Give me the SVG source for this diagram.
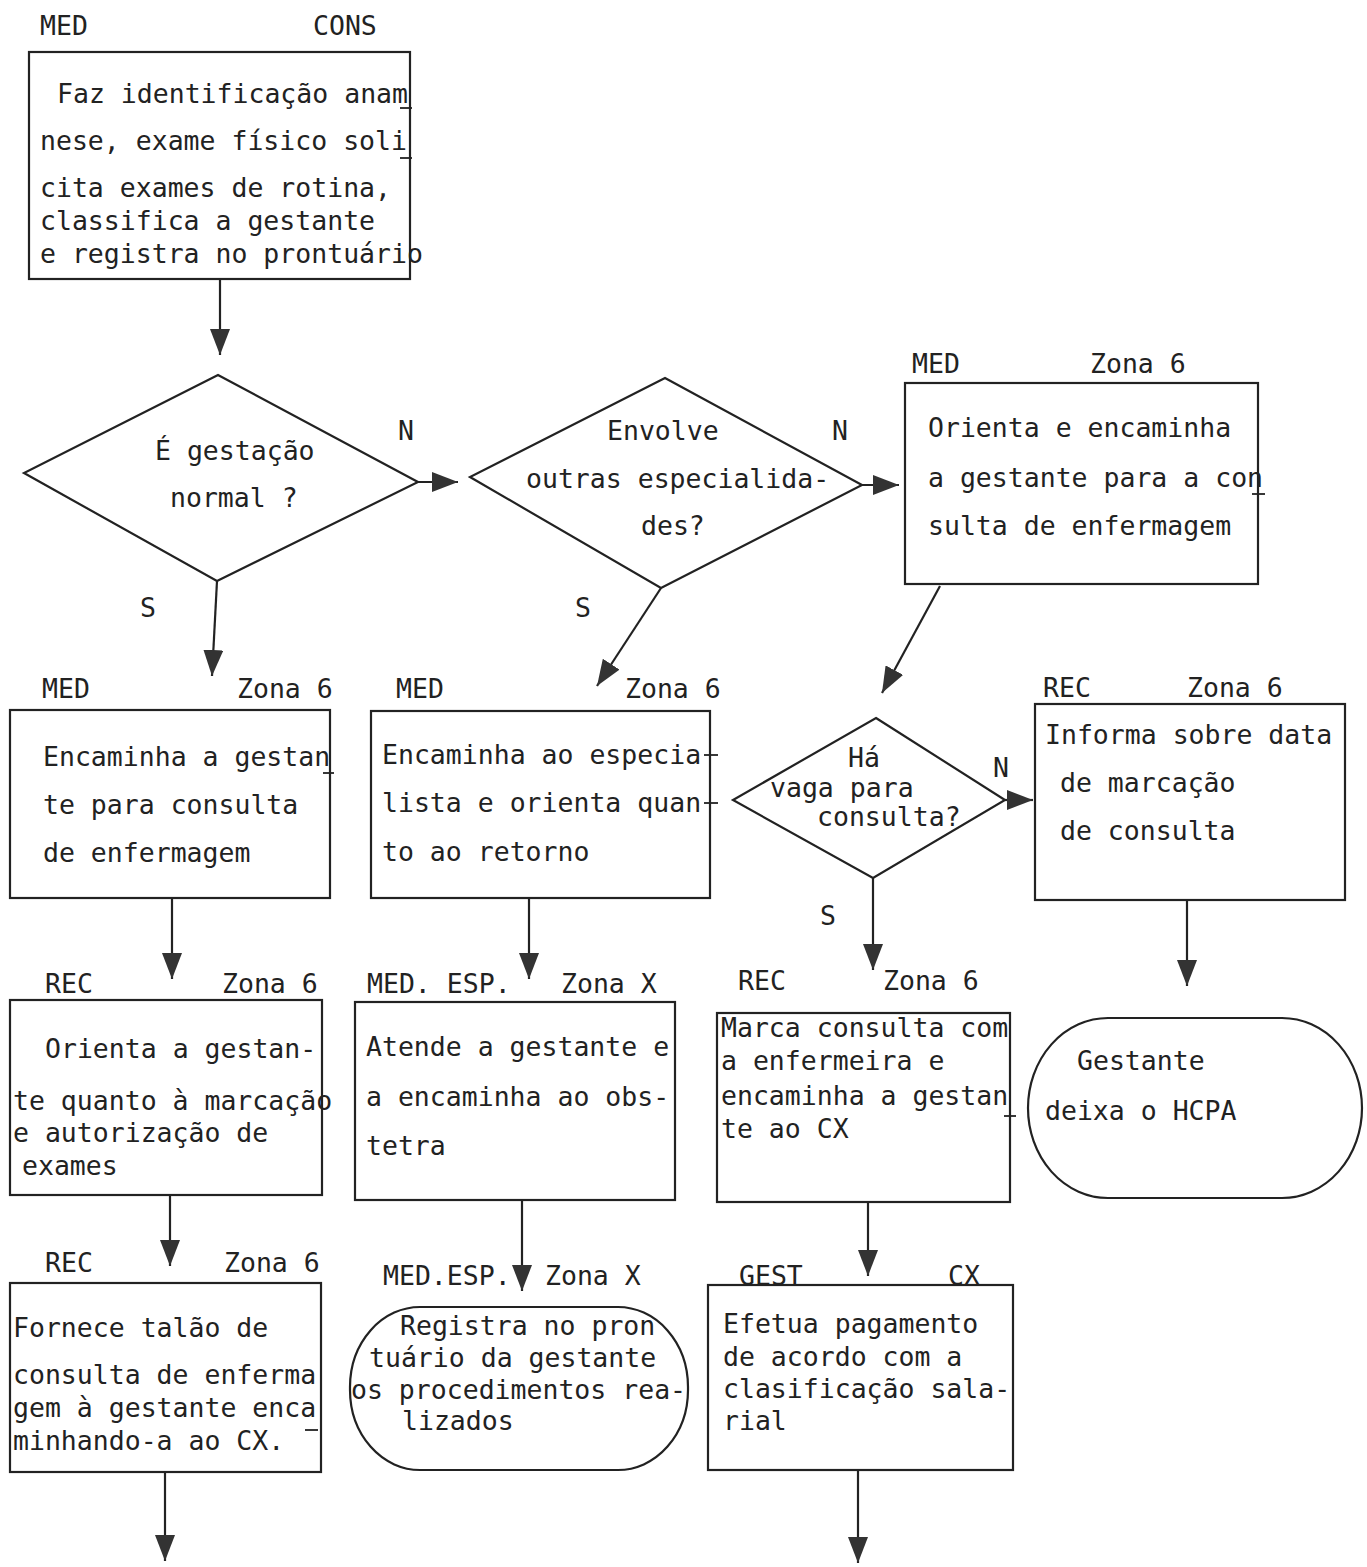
<svg xmlns="http://www.w3.org/2000/svg" width="1367" height="1567" viewBox="0 0 1367 1567">
<defs>
<style>
.box{fill:none;stroke:#222;stroke-width:2.2}
.t{font-family:"DejaVu Sans Mono","Liberation Mono",monospace;font-size:26.5px;fill:#222}
.c{fill:none;stroke:#222;stroke-width:2.2}
.tick{stroke:#222;stroke-width:1.8}
</style>
<marker id="ah" viewBox="0 0 26 20" refX="26" refY="10" markerWidth="26" markerHeight="20" markerUnits="userSpaceOnUse" orient="auto">
<path d="M0,0 L26,10 L0,20 z" fill="#333"/>
</marker>
</defs>
<rect width="1367" height="1567" fill="#fff"/>

<g id="connectors">
<line class="c" x1="220" y1="279" x2="220" y2="355" marker-end="url(#ah)"/>
<line class="c" x1="418" y1="482" x2="458" y2="482" marker-end="url(#ah)"/>
<line class="c" x1="862" y1="485" x2="899" y2="485" marker-end="url(#ah)"/>
<line class="c" x1="217" y1="581" x2="212" y2="676" marker-end="url(#ah)"/>
<line class="c" x1="661" y1="588" x2="597" y2="686" marker-end="url(#ah)"/>
<line class="c" x1="940" y1="586" x2="882" y2="693" marker-end="url(#ah)"/>
<line class="c" x1="1005" y1="800" x2="1033" y2="800" marker-end="url(#ah)"/>
<line class="c" x1="873" y1="878" x2="873" y2="970" marker-end="url(#ah)"/>
<line class="c" x1="1187" y1="900" x2="1187" y2="986" marker-end="url(#ah)"/>
<line class="c" x1="172" y1="898" x2="172" y2="979" marker-end="url(#ah)"/>
<line class="c" x1="529" y1="898" x2="529" y2="979" marker-end="url(#ah)"/>
<line class="c" x1="170" y1="1195" x2="170" y2="1266" marker-end="url(#ah)"/>
<line class="c" x1="522" y1="1200" x2="522" y2="1291" marker-end="url(#ah)"/>
<line class="c" x1="868" y1="1202" x2="868" y2="1276" marker-end="url(#ah)"/>
<line class="c" x1="165" y1="1472" x2="165" y2="1561" marker-end="url(#ah)"/>
<line class="c" x1="858" y1="1470" x2="858" y2="1563" marker-end="url(#ah)"/>
<text class="t" x="398" y="440">N</text>
<text class="t" x="140" y="617">S</text>
<text class="t" x="832" y="440">N</text>
<text class="t" x="575" y="617">S</text>
<text class="t" x="993" y="777">N</text>
<text class="t" x="820" y="925">S</text>
</g>

<g id="n1">
<text class="t" x="40" y="35">MED</text>
<text class="t" x="313" y="35">CONS</text>
<rect class="box" x="29" y="52" width="381" height="227"/>
<text class="t" x="57" y="103">Faz identificação anam</text>
<line class="tick" x1="400" y1="108" x2="412" y2="108"/>
<text class="t" x="40" y="150">nese, exame físico soli</text>
<line class="tick" x1="400" y1="158" x2="412" y2="158"/>
<text class="t" x="40" y="197">cita exames de rotina,</text>
<text class="t" x="40" y="230">classifica a gestante</text>
<text class="t" x="40" y="263">e registra no prontuário</text>
</g>

<g id="d1">
<polygon class="box" points="218,375 418,482 217,581 24,473"/>
<text class="t" x="155" y="460">É gestação</text>
<text class="t" x="170" y="507">normal ?</text>
</g>

<g id="d2">
<polygon class="box" points="665,378 862,485 661,588 470,477"/>
<text class="t" x="607" y="440">Envolve</text>
<text class="t" x="526" y="488">outras especialida-</text>
<text class="t" x="641" y="535">des?</text>
</g>

<g id="n3">
<text class="t" x="912" y="373">MED</text>
<text class="t" x="1090" y="373">Zona 6</text>
<rect class="box" x="905" y="383" width="353" height="201"/>
<text class="t" x="928" y="437">Orienta e encaminha</text>
<text class="t" x="928" y="487">a gestante para a con</text>
<line class="tick" x1="1252" y1="494" x2="1265" y2="494"/>
<text class="t" x="928" y="535">sulta de enfermagem</text>
</g>

<g id="n4">
<text class="t" x="42" y="698">MED</text>
<text class="t" x="237" y="698">Zona 6</text>
<rect class="box" x="10" y="710" width="320" height="188"/>
<text class="t" x="43" y="766">Encaminha a gestan</text>
<line class="tick" x1="323" y1="773" x2="334" y2="773"/>
<text class="t" x="43" y="814">te para consulta</text>
<text class="t" x="43" y="862">de enfermagem</text>
</g>

<g id="n5">
<text class="t" x="396" y="698">MED</text>
<text class="t" x="625" y="698">Zona 6</text>
<rect class="box" x="371" y="711" width="339" height="187"/>
<text class="t" x="382" y="764">Encaminha ao especia</text>
<line class="tick" x1="704" y1="755" x2="718" y2="755"/>
<text class="t" x="382" y="812">lista e orienta quan</text>
<line class="tick" x1="704" y1="803" x2="718" y2="803"/>
<text class="t" x="382" y="861">to ao retorno</text>
</g>

<g id="d3">
<polygon class="box" points="876,718 1005,800 873,878 733,800"/>
<text class="t" x="848" y="767">Há</text>
<text class="t" x="770" y="797">vaga para</text>
<text class="t" x="817" y="826">consulta?</text>
</g>

<g id="n6">
<text class="t" x="1043" y="697">REC</text>
<text class="t" x="1187" y="697">Zona 6</text>
<rect class="box" x="1035" y="704" width="310" height="196"/>
<text class="t" x="1045" y="744">Informa sobre data</text>
<text class="t" x="1060" y="792">de marcação</text>
<text class="t" x="1060" y="840">de consulta</text>
</g>

<g id="n7">
<text class="t" x="45" y="993">REC</text>
<text class="t" x="222" y="993">Zona 6</text>
<rect class="box" x="10" y="1000" width="312" height="195"/>
<text class="t" x="45" y="1058">Orienta a gestan-</text>
<text class="t" x="13" y="1110">te quanto à marcação</text>
<text class="t" x="13" y="1142">e autorização de</text>
<text class="t" x="22" y="1175">exames</text>
</g>

<g id="n8">
<text class="t" x="367" y="993">MED. ESP.</text>
<text class="t" x="561" y="993">Zona X</text>
<rect class="box" x="355" y="1002" width="320" height="198"/>
<text class="t" x="366" y="1056">Atende a gestante e</text>
<text class="t" x="366" y="1106">a encaminha ao obs-</text>
<text class="t" x="366" y="1155">tetra</text>
</g>

<g id="n9">
<text class="t" x="738" y="990">REC</text>
<text class="t" x="883" y="990">Zona 6</text>
<rect class="box" x="717" y="1013" width="293" height="189"/>
<text class="t" x="721" y="1037">Marca consulta com</text>
<text class="t" x="721" y="1070">a enfermeira  e</text>
<text class="t" x="721" y="1105">encaminha a gestan</text>
<line class="tick" x1="1004" y1="1116" x2="1016" y2="1116"/>
<text class="t" x="721" y="1138">te ao CX</text>
</g>

<g id="n10">
<rect class="box" x="1028" y="1018" width="334" height="180" rx="80" ry="90"/>
<text class="t" x="1077" y="1070">Gestante</text>
<text class="t" x="1045" y="1120">deixa o HCPA</text>
</g>

<g id="n11">
<text class="t" x="45" y="1272">REC</text>
<text class="t" x="224" y="1272">Zona 6</text>
<rect class="box" x="10" y="1283" width="311" height="189"/>
<text class="t" x="13" y="1337">Fornece talão de</text>
<text class="t" x="13" y="1384">consulta de enferma</text>
<text class="t" x="13" y="1417">gem à gestante enca</text>
<text class="t" x="13" y="1450">minhando-a ao CX.</text>
<line class="tick" x1="305" y1="1430" x2="318" y2="1430"/>
</g>

<g id="n12">
<text class="t" x="383" y="1285">MED.ESP.</text>
<text class="t" x="545" y="1285">Zona X</text>
<rect class="box" x="350" y="1307" width="338" height="163" rx="70" ry="80"/>
<text class="t" x="400" y="1335">Registra no pron</text>
<text class="t" x="369" y="1367">tuário da gestante</text>
<text class="t" x="351" y="1399">os procedimentos rea-</text>
<text class="t" x="402" y="1430">lizados</text>
</g>

<g id="n13">
<text class="t" x="739" y="1285">GEST</text>
<text class="t" x="948" y="1285">CX</text>
<rect class="box" x="708" y="1285" width="305" height="185"/>
<text class="t" x="723" y="1333">Efetua pagamento</text>
<text class="t" x="723" y="1366">de acordo com a</text>
<text class="t" x="723" y="1398">clasificação sala-</text>
<text class="t" x="723" y="1430">rial</text>
</g>
</svg>
